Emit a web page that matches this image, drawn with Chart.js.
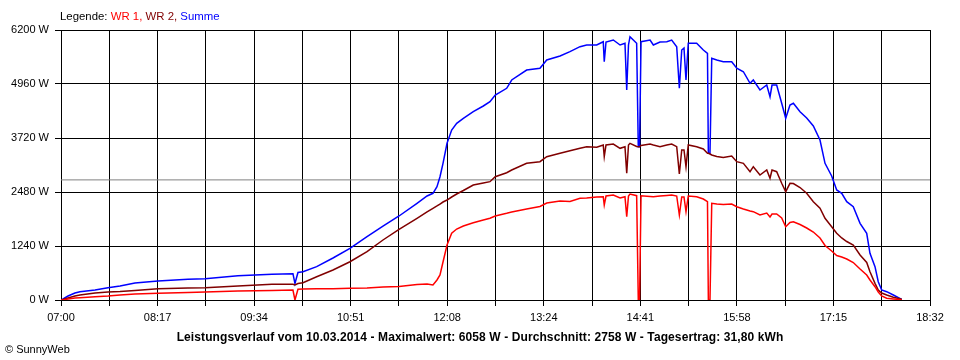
<!DOCTYPE html>
<html><head><meta charset="utf-8">
<script src="https://cdn.jsdelivr.net/npm/chart.js@4"></script>
<style>
html,body{margin:0;padding:0;background:#fff;}
#wrap{position:relative;width:960px;height:360px;font-family:"Liberation Sans",Arial,sans-serif;color:#000;}
canvas{position:absolute;left:0;top:0;}
#legend{position:absolute;left:60px;top:9px;font-size:11.4px;line-height:14px;white-space:nowrap;}
#title{position:absolute;left:0;width:960px;top:330px;text-align:center;font-weight:bold;font-size:12px;letter-spacing:0.1px;line-height:14px;white-space:nowrap;}
#credit{position:absolute;left:5px;top:342px;font-size:11px;line-height:14px;white-space:nowrap;}
</style></head><body>
<div id="wrap"><canvas id="c" width="960" height="360"></canvas>
<div id="legend">Legende: <span style="color:#ff0000">WR 1, </span><span style="color:#800000">WR 2, </span><span style="color:#0000ff">Summe</span></div>
<div id="title">Leistungsverlauf vom 10.03.2014 - Maximalwert: 6058 W - Durchschnitt: 2758 W - Tagesertrag: 31,80 kWh</div>
<div id="credit">© SunnyWeb</div>
</div>
<script>
// time in minutes since midnight
const times = [420,421.6,425.6,431.1,435.1,447.1,457.4,467.0,478.9,497.2,
  521.1,534.7,560.9,588.0,604.7,606.3,608.7,612.7,623.6,636.6,
  650.1,663.7,676.4,689.2,703.5,711.5,716.2,719.4,721.8,724.2,
  727.4,731.1,735.1,740.4,748.3,756.3,761.6,765.8,774.9,778.9,
  790.8,801.4,806.8,817.4,825.3,833.3,838.6,846.6,851.8,852.6,
  854.0,859.8,865.2,869.1,870.5,871.9,873.1,878.4,879.7,880.7,
  881.9,889.1,891.7,897.0,902.4,906.3,910.3,912.4,914.3,916.1,
  917.7,919.5,926.2,931.5,934.8,935.5,936.8,938.2,942.2,947.4,
  954.1,958.1,963.4,968.7,971.3,976.6,982.0,984.6,986.2,989.9,
  993.9,997.1,1000.5,1003.2,1008.5,1013.8,1019.1,1024.4,1028.4,1033.7,
  1037.7,1041.7,1045.7,1050.9,1056.3,1061.6,1064.2,1068.2,1070.8,1073.5,
  1077.5,1082.8,1089.5];
const summe = [0,23,92,161,191,230,282,321,390,436,
  475,489,558,590,604,379,631,650,765,964,
  1187,1454,1699,1929,2220,2388,2450,2602,2831,3139,
  3598,3904,4057,4172,4324,4455,4554,4707,4861,5052,
  5281,5321,5511,5603,5702,5817,5856,5856,5931,5472,
  5924,5970,5856,5894,4822,5856,6046,5894,3520,3520,
  5931,5970,5856,5924,5931,5970,5817,4861,5741,5787,
  5052,5894,5894,5741,5665,3369,3369,5550,5511,5472,
  5472,5321,5242,4976,5052,4822,4937,4668,4937,4937,
  4517,4172,4478,4517,4324,4179,3996,3674,3139,2847,
  2526,2450,2257,2142,1761,1532,1072,765,420,230,
  191,115,16];
const wr2 = [0,11,46,92,115,161,184,195,218,259,
  276,282,321,361,361,344,379,397,535,689,
  879,1109,1378,1623,1876,2021,2106,2159,2204,2250,
  2296,2365,2434,2514,2641,2687,2717,2831,2923,2985,
  3139,3176,3291,3369,3428,3483,3520,3506,3559,3291,
  3559,3582,3483,3520,2909,3559,3598,3525,3520,3520,
  3548,3582,3559,3520,3559,3582,3520,2893,3444,3444,
  3061,3559,3520,3467,3369,3369,3353,3330,3295,3272,
  3307,3176,3139,2946,3061,2870,2985,2795,2985,2946,
  2680,2487,2680,2675,2583,2450,2257,2106,1876,1683,
  1532,1424,1343,1263,1033,861,650,383,230,161,
  115,62,16];
const wr1 = [0,0,23,46,53,76,92,115,138,154,
  172,184,207,218,230,0,246,253,257,259,
  269,276,299,310,356,367,344,459,574,873,
  1263,1532,1630,1699,1775,1837,1876,1929,1991,2021,
  2090,2147,2227,2273,2262,2335,2342,2365,2372,2181,
  2388,2411,2342,2372,1913,2388,2434,2395,0,0,
  2395,2377,2372,2388,2400,2411,2388,1952,2365,2365,
  2028,2388,2372,2319,2257,0,0,2220,2204,2193,
  2204,2142,2090,2044,2028,1952,1998,1906,1975,1975,
  1883,1683,1780,1798,1734,1653,1561,1424,1251,1125,
  1022,987,941,861,712,574,459,305,184,92,
  39,23,7];
const average = [2758];
const xLabels = ["07:00","08:17","09:34","10:51","12:08","13:24","14:41","15:58","17:15","18:32"];
const yTicks = [0,1240,2480,3720,4960,6200];
const xMin = 420, xMax = 1112, xDivisions = 18;

const FONT = '"Liberation Sans", Arial, sans-serif';
const pts = arr => times.map((t,i)=>({x:t,y:arr[i]}));
const lineDs = (label, arr, color, order) => ({label, data: pts(arr), borderColor: color, backgroundColor: color,
  borderWidth: 1.5, pointRadius: 0, tension: 0, fill: false, order});

new Chart(document.getElementById('c'), {
  type: 'line',
  data: { datasets: [
    lineDs('WR 1', wr1, '#ff0000', 0),
    lineDs('WR 2', wr2, '#800000', 1),
    lineDs('Summe', summe, '#0000ff', 2),
    {label:'Durchschnitt', data:[{x:xMin,y:average[0]},{x:xMax,y:average[0]}], borderColor:'#808080',
     borderWidth:1, pointRadius:0, order:3}
  ]},
  options: {
    responsive: false, animation: false, devicePixelRatio: 1,
    layout: { padding: { left: 0, right: 30, top: 30, bottom: 0 } },
    plugins: { legend: { display: false }, tooltip: { enabled: false }, title: { display: false } },
    scales: {
      x: {
        type: 'linear', min: xMin, max: xMax,
        afterBuildTicks: s => { s.ticks = Array.from({length: xDivisions + 1}, (_, i) => ({ value: xMin + i * (xMax - xMin) / xDivisions })); },
        afterFit: s => { s.height = 60; },
        grid: { color: '#000', lineWidth: 1, tickLength: 6, drawTicks: true },
        border: { color: '#000', width: 1 },
        ticks: { autoSkip: false, maxRotation: 0, minRotation: 0, color: '#000', padding: 5,
          font: { family: FONT, size: 11 },
          callback: (v, i) => (i % 2 === 0 ? xLabels[i / 2] : '') }
      },
      y: {
        min: 0, max: 6200,
        afterBuildTicks: s => { s.ticks = yTicks.map(v => ({ value: v })); },
        afterFit: s => { s.width = 61; },
        grid: { color: '#000', lineWidth: 1, tickLength: 6, drawTicks: true },
        border: { color: '#000', width: 1 },
        ticks: { color: '#000', padding: 6, font: { family: FONT, size: 11 },
          callback: v => v + ' W' }
      }
    }
  }
});
</script>
</body></html>
